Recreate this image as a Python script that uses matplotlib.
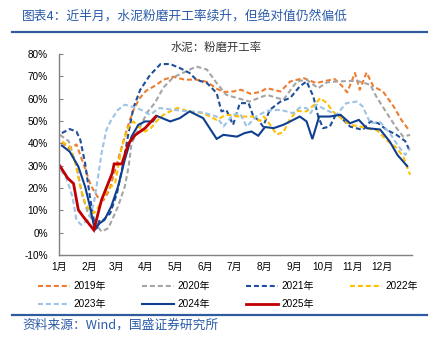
import matplotlib
matplotlib.use("Agg")
import matplotlib.pyplot as plt
from matplotlib.ticker import FuncFormatter

plt.rcParams['font.family'] = ['Liberation Sans', 'Noto Sans CJK SC', 'DejaVu Sans']

# ---- data (day of year, percent) ----
d2019 = [3, 11, 18, 26, 33, 40, 46, 52, 60, 70, 76, 83, 90, 100, 108, 118, 130, 142, 153, 163, 170, 180, 188, 198, 208, 215, 229, 239, 253, 266, 276, 285, 292, 298, 306, 311, 318, 325, 335, 346, 354, 361]
v2019 = [40.5, 37.5, 39.5, 30, 21, 16, 14.5, 19, 31, 46, 54, 60, 63.5, 66, 68.5, 69.8, 68.5, 68.5, 67.5, 64.5, 63, 63.2, 64, 62.2, 63, 64.7, 63.2, 67.7, 69.2, 67, 68, 68.8, 66, 62.8, 71.5, 64, 71.7, 65.5, 63.2, 56.5, 50.5, 46.4]

d2020 = [1, 10, 18, 24, 30, 37, 44, 51, 61, 68, 72, 75, 82, 92, 99, 108, 118, 128, 142, 153, 163, 173, 184, 197, 215, 232, 246, 256, 268, 277, 287, 308, 322, 328, 339, 349, 356, 363]
v2020 = [43.8, 41, 30, 17, 8.7, 4.2, 0.5, 2, 11.7, 20.6, 29.6, 40, 46, 54.3, 58, 65, 69.5, 71.5, 74.4, 73, 67, 61.7, 60.3, 58.7, 61.7, 59.5, 67.7, 68.5, 64.7, 67.3, 67.7, 68, 66.2, 61, 53.5, 46.8, 43, 43.8]

d2021 = [3, 11, 18, 22, 27, 32, 36, 39, 42, 46, 53, 60, 65, 72, 77, 84, 94, 105, 115, 125, 135, 142, 153, 163, 168, 173, 180, 187, 196, 201, 206, 211, 218, 229, 239, 249, 256, 263, 268, 273, 280, 287, 301, 314, 322, 330, 339, 349, 358, 363]
v2021 = [44.6, 46.4, 45.3, 41.6, 31, 16, 5.7, 2, 5.7, 5.7, 8.7, 17.7, 28, 45, 56, 64, 70.5, 75.5, 75.5, 73.7, 71.5, 68.5, 67, 62.5, 54.3, 55, 48.3, 58, 58, 52, 50.5, 47.5, 55, 58.7, 60.3, 65.5, 67.7, 61, 52, 46.8, 47.5, 53.5, 47.5, 46, 49.8, 49, 46, 43.8, 41, 36.3]

d2022 = [3, 11, 17, 22, 27, 32, 36, 41, 46, 52, 58, 65, 72, 77, 82, 89, 95, 101, 108, 122, 135, 149, 163, 173, 187, 200, 208, 212, 218, 225, 232, 239, 246, 256, 266, 270, 277, 283, 294, 301, 314, 329, 339, 349, 356, 363]
v2022 = [40.8, 38.6, 31, 20.6, 13, 10, 8.7, 11.7, 16, 20, 22, 38.6, 47.5, 49.8, 47.5, 45.3, 46.8, 50, 52.8, 55.8, 54.3, 53.5, 50.5, 52.8, 52, 52, 50, 52, 48.5, 44, 45, 51, 54.5, 54.3, 58, 60.3, 58, 54.3, 50.5, 48.3, 47.3, 45.8, 41.3, 38, 34, 25.9]

d2023 = [2, 8, 14, 18, 23, 30, 36, 40, 44, 49, 54, 61, 68, 75, 85, 94, 104, 118, 135, 149, 163, 170, 180, 187, 194, 204, 215, 229, 242, 249, 256, 260, 266, 276, 287, 297, 308, 314, 322, 332, 342, 350, 358, 363]
v2023 = [28, 24, 16, 5.7, 3.5, 5.7, 13, 24, 35.6, 46, 50.5, 55, 57.3, 56.5, 55, 52.8, 55.8, 55, 54.3, 53.8, 52, 47.5, 52.8, 53.5, 47.5, 52, 54.6, 55, 53.5, 56, 55.8, 53.5, 57.3, 55, 52.8, 58, 58.7, 56.5, 49, 49.5, 44.6, 39.3, 34.8, 37.8]

d2024 = [3, 11, 20, 27, 32, 37, 42, 47, 54, 61, 68, 75, 82, 89, 97, 101, 115, 125, 135, 149, 163, 170, 184, 192, 199, 206, 213, 222, 232, 239, 249, 256, 262, 269, 280, 291, 301, 310, 318, 332, 342, 350, 360]
v2024 = [39, 36.3, 29.6, 20.6, 11.7, 1.2, 4.2, 5.7, 11.7, 20.6, 32.6, 43, 48.3, 49.8, 49.8, 52.3, 49.8, 51.3, 54.3, 51.3, 42, 43.8, 43, 44.6, 45.3, 43.4, 47.3, 46.8, 48.3, 49.8, 52, 49.8, 41.9, 52, 52, 52.8, 49, 50.5, 46.8, 46.2, 40.8, 34.8, 29.8]

d2025 = [1, 9, 15, 20, 25, 36, 44, 55, 57, 65, 72, 79, 89, 100]
v2025 = [29.8, 24.4, 22, 10.2, 7.2, 1.2, 14.7, 26.6, 30.8, 30.8, 40, 43.8, 46.8, 52]

month_starts = [0, 31, 59, 90, 120, 151, 181, 212, 243, 273, 304, 334]
month_labels = ['1月', '2月', '3月', '4月', '5月', '6月', '7月', '8月', '9月', '10月', '11月', '12月']

series = [
    ('2019年', d2019, v2019, '#ED7D31', True, 1.5),
    ('2020年', d2020, v2020, '#A5A5A5', True, 1.5),
    ('2021年', d2021, v2021, '#1F4E9A', True, 1.5),
    ('2022年', d2022, v2022, '#FFC000', True, 1.5),
    ('2023年', d2023, v2023, '#9DC3E6', True, 1.5),
    ('2024年', d2024, v2024, '#0F3F8F', False, 1.5),
    ('2025年', d2025, v2025, '#C00000', False, 2.0),
]

W, H = 446, 346
fig = plt.figure(figsize=(W / 100, H / 100), dpi=100)
ax = fig.add_axes([59 / W, 1 - 255 / H, (412 - 59) / W, (255 - 54) / H])

handles = []
for name, d, v, c, dashed, lw in series:
    if dashed:
        ln, = ax.plot(d, v, color=c, lw=lw, dashes=[2.4, 1.4], label=name)
    else:
        ln, = ax.plot(d, v, color=c, lw=lw, label=name, solid_joinstyle='miter')
    handles.append(ln)

ax.set_xlim(0, 365)
ax.set_ylim(-10, 80)
ax.set_yticks(range(-10, 81, 10))
ax.yaxis.set_major_formatter(FuncFormatter(lambda v, p: f'{int(v)}%'))
ax.set_xticks(month_starts)
ax.set_xticklabels(month_labels)
ax.tick_params(axis='y', direction='in', length=3, color='#808080', labelsize=7.2, pad=8, labelcolor='#000000')
ax.tick_params(axis='x', length=0, labelsize=7.2, pad=5)
for s in ['top', 'right']:
    ax.spines[s].set_visible(False)
for s in ['left', 'bottom']:
    ax.spines[s].set_color('#808080')
    ax.spines[s].set_linewidth(1.0)

# titles
fig.text(22 / W, 1 - 16 / H, '图表4：近半月，水泥粉磨开工率续升，但绝对值仍然偏低', fontsize=9.2,
         color='#2B5BA8', family=['Noto Sans CJK SC'], va='center', ha='left')
fig.add_artist(plt.Line2D([12 / W, 427 / W], [1 - 32 / H, 1 - 32 / H], color='#2E5C9E', lw=1.6))
fig.text(216 / W, 1 - 47 / H, '水泥：粉磨开工率', fontsize=8.2, color='#333333',
         family=['Noto Sans CJK SC'], va='center', ha='center')

# legend (row-major order: 4 per row)
order = [0, 4, 1, 5, 2, 6, 3]
fig.legend(handles=[handles[i] for i in order], loc='upper left', bbox_to_anchor=(38 / W, 1 - 281 / H), ncol=4,
           frameon=False, fontsize=7.2, handlelength=3.2, handletextpad=0.35,
           columnspacing=3.6, labelspacing=0.85, borderpad=0, borderaxespad=0)

fig.add_artist(plt.Line2D([12 / W, 427 / W], [1 - 315 / H, 1 - 315 / H], color='#2E5C9E', lw=1.6))
fig.text(22 / W, 1 - 325 / H, '资料来源：Wind，国盛证券研究所', fontsize=9.2, color='#2B5BA8',
         family=['Noto Sans CJK SC'], va='center', ha='left')

fig.savefig('out.png', dpi=100)
